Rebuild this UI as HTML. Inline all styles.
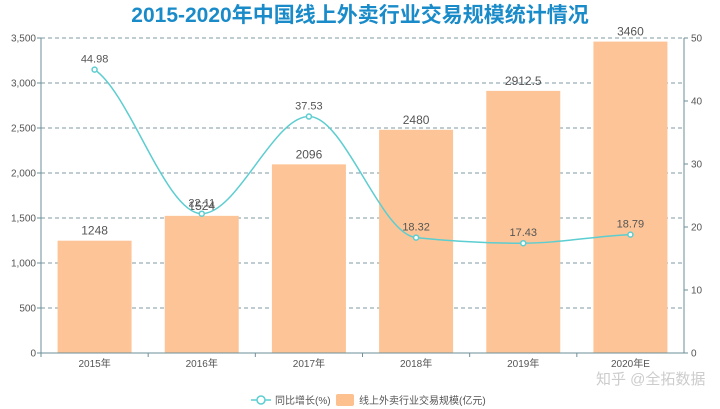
<!DOCTYPE html>
<html><head><meta charset="utf-8"><style>
body{margin:0;background:#fff;}
svg{display:block;font-family:"Liberation Sans","Noto Sans CJK SC",sans-serif;}
</style></head><body>
<svg id="c" width="720" height="409" viewBox="0 0 720 409">
<text x="360" y="22" text-anchor="middle" font-size="21" font-weight="bold" fill="#1a8bc9">2015-2020年中国线上外卖行业交易规模统计情况</text>
<g id="grid"></g><g id="bars"></g><g id="line"></g><g id="axes"></g>
<g>
<g><line x1="251" y1="400" x2="271" y2="400" stroke="#5ccdd0" stroke-width="1.5"/><circle cx="261" cy="400" r="4" fill="#fff" stroke="#5ccdd0" stroke-width="1.5"/><text x="275" y="404" font-size="10" fill="#555">同比增长(%)</text></g>
<g><rect x="336" y="394" width="18" height="12" rx="2" fill="#fdc08f"/><text x="359" y="404" font-size="10" fill="#555">线上外卖行业交易规模(亿元)</text></g>
</g>
<text x="596" y="384" font-size="15" fill="#ccc">知乎 @全拓数据</text>
</svg>
<script>
const categories=["2015年","2016年","2017年","2018年","2019年","2020年E"];
const scaleValues=[1248,1524,2096,2480,2912.5,3460];
const growthValues=[44.98,22.11,37.53,18.32,17.43,18.79];
const leftTicks=[0,500,1000,1500,2000,2500,3000,3500];
const rightTicks=[0,10,20,30,40,50];
const X0=41,X1=684,Y0=353,Y1=38;
const NS="http://www.w3.org/2000/svg";
const yL=v=>Y0-(v/3500)*(Y0-Y1);
const yR=v=>Y0-(v/50)*(Y0-Y1);
const band=(X1-X0)/categories.length;
const xC=i=>X0+band*(i+0.5);
function mk(tag,attrs,parent,txt){const e=document.createElementNS(NS,tag);for(const k in attrs)e.setAttribute(k,attrs[k]);if(txt!==undefined)e.textContent=txt;document.getElementById(parent).appendChild(e);return e;}
const fmt=v=>v.toLocaleString('en-US');
leftTicks.forEach(t=>{
 if(t>0){const g=mk('line',{x1:X0,x2:X1,y1:yL(t),y2:yL(t),stroke:'#7f9aa5','stroke-dasharray':'4,3','stroke-width':1},'grid');
 
 }
 const l=mk('text',{x:X0-5,y:yL(t)+3.5,'text-anchor':'end','font-size':10,fill:'#555'},'axes',fmt(t));
 
 
 mk('line',{x1:X0-4,x2:X0,y1:yL(t),y2:yL(t),stroke:'#6e8f99'},'axes');
});
rightTicks.forEach(t=>{
 const l=mk('text',{x:X1+7,y:yR(t)+3.5,'font-size':10,fill:'#555'},'axes',t);
 
 
 mk('line',{x1:X1,x2:X1+4,y1:yR(t),y2:yR(t),stroke:'#6e8f99'},'axes');
});
mk('line',{x1:X0,x2:X0,y1:Y1,y2:Y0,stroke:'#6e8f99'},'axes');
mk('line',{x1:X1,x2:X1,y1:Y1,y2:Y0,stroke:'#6e8f99'},'axes');
mk('line',{x1:X0,x2:X1,y1:Y0,y2:Y0,stroke:'#6e8f99'},'axes');
categories.forEach((c,i)=>{
 const l=mk('text',{x:xC(i),y:Y0+14,'text-anchor':'middle','font-size':10,fill:'#555'},'axes',c);
 
 
 mk('line',{x1:X0+band*i,x2:X0+band*i,y1:Y0,y2:Y0+4,stroke:'#6e8f99'},'axes');
 const bw=74,v=scaleValues[i];
 const b=mk('rect',{x:xC(i)-bw/2,y:yL(v),width:bw,height:Y0-yL(v),fill:'#fdc597'},'bars');
 
 
 const t=mk('text',{x:xC(i),y:yL(v)-6,'text-anchor':'middle','font-size':12,fill:'#555'},'bars',v);
 
 
});
const pts=growthValues.map((v,i)=>[xC(i),yR(v)]);
const n=pts.length,dx=band,sl=[],m=[];
for(let i=0;i<n-1;i++)sl.push((pts[i+1][1]-pts[i][1])/dx);
for(let i=0;i<n;i++){
 if(i===0)m.push(sl[0]/2);else if(i===n-1)m.push(sl[n-2]/2);
 else{const s0=sl[i-1],s1=sl[i],p=(s0+s1)/2;
  m.push((Math.sign(s0)+Math.sign(s1))*Math.min(Math.abs(s0),Math.abs(s1),0.5*Math.abs(p))||0);}
}
let d=`M${pts[0][0]},${pts[0][1]}`;
for(let i=0;i<n-1;i++){
 const p1=pts[i],p2=pts[i+1],h=dx/3;
 d+=` C${p1[0]+h},${p1[1]+m[i]*h} ${p2[0]-h},${p2[1]-m[i+1]*h} ${p2[0]},${p2[1]}`;
}
const ln=mk('path',{d:d,fill:'none',stroke:'#5ccdd0','stroke-width':1.5},'line');


pts.forEach((p,i)=>{
 const c=mk('circle',{cx:p[0],cy:p[1],r:2.5,fill:'#fff',stroke:'#5ccdd0','stroke-width':1.5},'line');
 
 
 const t=mk('text',{x:p[0],y:p[1]-7,'text-anchor':'middle','font-size':11,fill:'#555'},'line',growthValues[i]);
 
 
});
</script>
</body></html>
